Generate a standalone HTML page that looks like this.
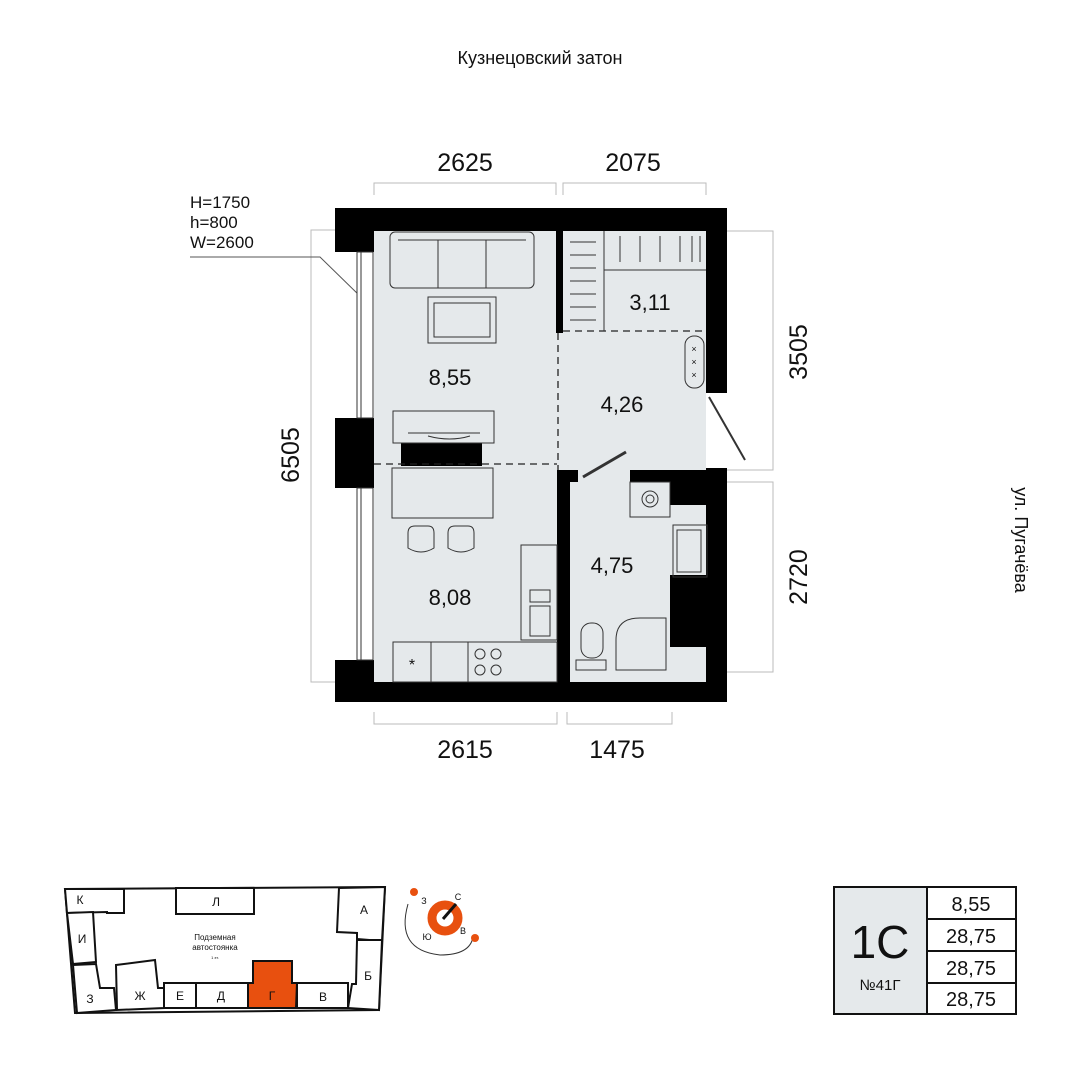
<!DOCTYPE html>
<html><head><meta charset="utf-8"><style>
html,body{margin:0;padding:0;background:#fff}
svg{display:block}
text{font-family:"Liberation Sans",sans-serif;fill:#111}
</style></head><body>
<svg width="1080" height="1080" viewBox="0 0 1080 1080" xmlns="http://www.w3.org/2000/svg">
<text x="540" y="64" font-size="18" text-anchor="middle">Кузнецовский затон</text>
<text x="1015" y="540" font-size="18" text-anchor="middle" transform="rotate(90 1015 540)">ул. Пугачёва</text>

<!-- dimension lines -->
<g stroke="#bbb" stroke-width="1" fill="none">
<path d="M374 195V183H556V195M563 195V183H706V195"/>
<path d="M374 712V724H557V712M567 712V724H672V712"/>
<path d="M335 230H311V682H335"/>
<path d="M727 231H773V470H727M727 482H773V672H727"/>
</g>
<g font-size="25">
<text x="465" y="171" text-anchor="middle">2625</text>
<text x="633" y="171" text-anchor="middle">2075</text>
<text x="465" y="758" text-anchor="middle">2615</text>
<text x="617" y="758" text-anchor="middle">1475</text>
<text x="299" y="455" text-anchor="middle" transform="rotate(-90 299 455)">6505</text>
<text x="807" y="352" text-anchor="middle" transform="rotate(-90 807 352)">3505</text>
<text x="807" y="577" text-anchor="middle" transform="rotate(-90 807 577)">2720</text>
</g>
<g font-size="17">
<text x="190" y="208">H=1750</text>
<text x="190" y="228">h=800</text>
<text x="190" y="248">W=2600</text>
</g>
<path d="M190 257H320L362 298" stroke="#555" stroke-width="1" fill="none"/>

<!-- floor -->
<rect x="374" y="231" width="332" height="451" fill="#e5e9eb"/>
<!-- walls -->
<g fill="#000">
<rect x="335" y="208" width="392" height="23"/>
<rect x="335" y="208" width="39" height="44"/>
<rect x="335" y="418" width="39" height="70"/>
<rect x="335" y="660" width="39" height="42"/>
<rect x="335" y="682" width="392" height="20"/>
<rect x="706" y="208" width="21" height="185"/>
<rect x="706" y="468" width="21" height="234"/>
<rect x="556" y="231" width="7" height="102"/>
<rect x="557" y="470" width="13" height="212"/>
<rect x="570" y="470" width="8" height="12"/>
<rect x="630" y="470" width="76" height="12"/>
<rect x="670" y="470" width="40" height="35"/>
<rect x="670" y="575" width="40" height="72"/>
<rect x="401" y="443" width="81" height="23"/>
</g>
<!-- windows -->
<g fill="#fff" stroke="#333" stroke-width="1">
<rect x="357" y="252" width="16" height="166"/>
<rect x="357" y="488" width="16" height="172"/>
</g>
<g stroke="#333" stroke-width="1"><line x1="361" y1="252" x2="361" y2="418"/><line x1="361" y1="488" x2="361" y2="660"/></g>
<!-- dashed -->
<g stroke="#222" stroke-width="1.3" stroke-dasharray="7 5" fill="none">
<path d="M374 464H557"/><path d="M558 333V470"/><path d="M563 331H706"/>
</g>
<!-- closet -->
<g stroke="#333" stroke-width="1" fill="none">
<path d="M604 231V331M604 270H706"/>
<path d="M570 242H596M570 255H596M570 268H596M570 281H596M570 294H596M570 307H596M570 320H596"/>
<path d="M620 236V262M640 236V262M660 236V262M680 236V262M692 236V262M700 236V262"/>
<!-- sofa -->
<rect x="390" y="232" width="144" height="56" rx="5"/>
<path d="M398 240H526M438 240V288M486 240V288"/>
<rect x="428" y="297" width="68" height="46"/><rect x="434" y="303" width="56" height="34"/>
<rect x="393" y="411" width="101" height="32"/>
<path d="M408 433H480"/><path d="M428 436Q450 442 470 436"/>
<rect x="392" y="468" width="101" height="50"/>
<path d="M408 533Q408 526 415 526H428Q434 526 434 533V548Q421 556 408 548ZM448 533Q448 526 455 526H468Q474 526 474 533V548Q461 556 448 548Z"/>
<!-- kitchen -->
<rect x="521" y="545" width="36" height="95"/>
<rect x="530" y="590" width="20" height="12"/><rect x="530" y="606" width="20" height="30"/>
<rect x="393" y="642" width="164" height="40"/>
<path d="M431 642V682M468 642V682"/>
<circle cx="480" cy="654" r="5"/><circle cx="496" cy="654" r="5"/><circle cx="480" cy="670" r="5"/><circle cx="496" cy="670" r="5"/>
<!-- bath items -->
<rect x="685" y="336" width="19" height="52" rx="9"/>
<rect x="630" y="482" width="40" height="35"/>
<circle cx="650" cy="499" r="8"/><circle cx="650" cy="499" r="4"/>
<rect x="673" y="525" width="34" height="52"/><rect x="677" y="530" width="24" height="42"/>
<rect x="581" y="623" width="22" height="35" rx="10"/>
<rect x="576" y="660" width="30" height="10"/>
<path d="M616 670V640Q616 618 640 618H666V670Z"/>
<!-- doors -->
<path d="M583 477L626 452" stroke-width="3"/>
<path d="M709 397L745 460" stroke-width="2"/>
</g>
<g font-size="9" text-anchor="middle"><text x="694" y="352">×</text><text x="694" y="365">×</text><text x="694" y="378">×</text></g>
<text x="412" y="670" font-size="16" text-anchor="middle">*</text>

<g font-size="22" text-anchor="middle">
<text x="450" y="385">8,55</text>
<text x="622" y="412">4,26</text>
<text x="650" y="310">3,11</text>
<text x="612" y="573">4,75</text>
<text x="450" y="605">8,08</text>
</g>

<!-- map -->
<g stroke="#111" stroke-width="2" fill="#fff">
<path d="M65 889L385 887L379 1010L75 1013Z"/>
<path d="M65 889L124 889L124 913L107 913L107 912L67 913Z"/>
<rect x="176" y="888" width="78" height="26"/>
<path d="M339 888L385 887L382 941L357 939L357 933L337 932Z"/>
<path d="M357 940L382 940L379 1010L348 1008L352 984L356 984Z"/>
<rect x="297" y="983" width="51" height="25"/>
<path d="M253 961L292 961L292 983L297 983L296 1008L248 1008L248 983L253 983Z" fill="#e8500f"/>
<rect x="196" y="983" width="52" height="25"/>
<rect x="164" y="983" width="32" height="25"/>
<path d="M116 965L155 960L158 988L164 988L164 1008L117 1010Z"/>
<path d="M73 965L96 964L100 988L114 988L116 1010L77 1013Z"/>
<path d="M67 913L93 912L96 962L73 964Z"/>
</g>
<g font-size="12" text-anchor="middle">
<text x="80" y="904">К</text><text x="216" y="906">Л</text><text x="364" y="914">А</text>
<text x="82" y="943">И</text><text x="368" y="980">Б</text><text x="323" y="1001">В</text>
<text x="272" y="1000">Г</text><text x="221" y="1000">Д</text><text x="180" y="1000">Е</text>
<text x="140" y="1000">Ж</text><text x="90" y="1003">З</text>
<text x="215" y="940" font-size="8">Подземная</text>
<text x="215" y="950" font-size="8">автостоянка</text>
<text x="215" y="959" font-size="4">1 эт.</text>
</g>
<!-- compass -->
<circle cx="445" cy="918" r="13" fill="none" stroke="#e8500f" stroke-width="9"/>
<path d="M443 919L456 904" stroke="#111" stroke-width="3"/>
<path d="M408 904Q395 950 440 955Q470 955 473 937" fill="none" stroke="#333" stroke-width="1"/>
<circle cx="414" cy="892" r="4" fill="#e8500f"/><circle cx="475" cy="938" r="4" fill="#e8500f"/>
<g font-size="9" text-anchor="middle"><text x="458" y="900">С</text><text x="424" y="904">З</text><text x="427" y="940">Ю</text><text x="463" y="934">В</text></g>

<!-- table -->
<rect x="834" y="887" width="93" height="127" fill="#e5e9eb" stroke="#111" stroke-width="2"/>
<g fill="#fff" stroke="#111" stroke-width="2">
<rect x="927" y="887" width="89" height="32"/><rect x="927" y="919" width="89" height="32"/>
<rect x="927" y="951" width="89" height="32"/><rect x="927" y="983" width="89" height="31"/>
</g>
<text x="880" y="958" font-size="46" text-anchor="middle">1С</text>
<text x="880" y="990" font-size="15" text-anchor="middle">№41Г</text>
<g font-size="20" text-anchor="middle">
<text x="971" y="911">8,55</text><text x="971" y="943">28,75</text>
<text x="971" y="975">28,75</text><text x="971" y="1006">28,75</text>
</g>
</svg>
</body></html>
